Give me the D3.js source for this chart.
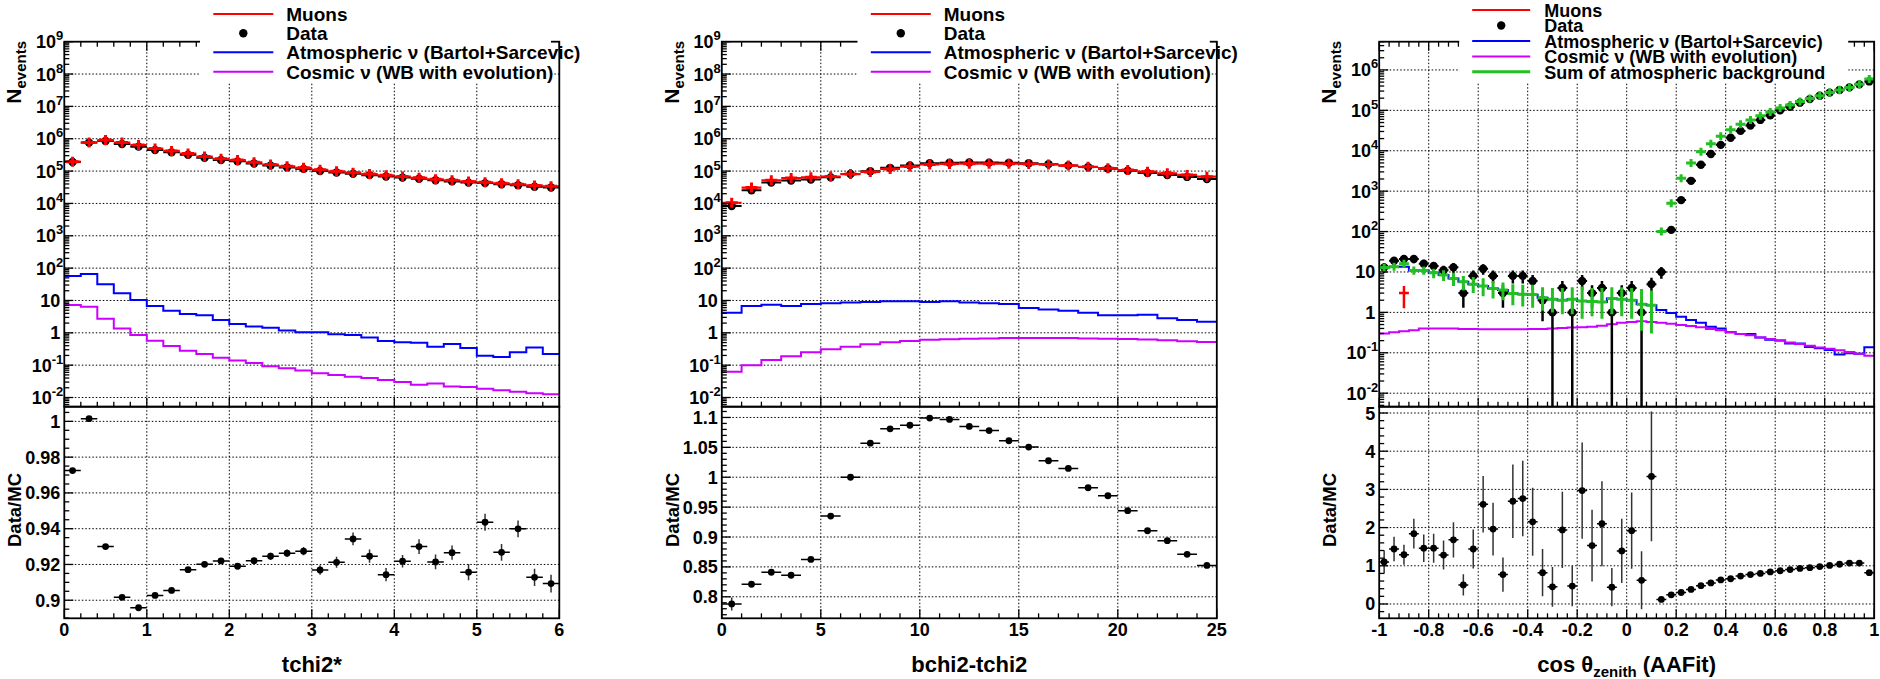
<!DOCTYPE html>
<html><head><meta charset="utf-8">
<script src="https://cdn.jsdelivr.net/npm/d3@7"></script>
<style>
body{margin:0;background:#fff}
svg{display:block}
text{font-family:"Liberation Sans",Arial,Helvetica,sans-serif;font-weight:bold;fill:#000}
</style>
</head><body>
<svg id="c" width="1880" height="679"></svg>
<script>
// ================= DATA =================
// ---- Panel 1: tchi2* (30 bins, 0..6)
const tchiMuons = [1.95e5,7.6e5,9.1e5,7.6e5,6.4e5,5.0e5,4.2e5,3.5e5,2.8e5,2.4e5,2.2e5,1.86e5,1.6e5,1.4e5,1.26e5,1.1e5,9.8e4,8.9e4,8.1e4,7.4e4,6.8e4,6.2e4,5.6e4,5.2e4,4.8e4,4.5e4,4.2e4,3.9e4,3.6e4,3.4e4];
const tchiData = [1.9e5,7.6e5,8.5e5,6.85e5,5.7e5,4.5e5,3.8e5,3.2e5,2.58e5,2.2e5,2.0e5,1.71e5,1.48e5,1.3e5,1.17e5,1.01e5,9.0e4,8.3e4,7.5e4,6.8e4,6.3e4,5.8e4,5.2e4,4.8e4,4.4e4,4.25e4,3.9e4,3.67e4,3.3e4,3.1e4];
const tchiAtmNu = [57,66,32,16.6,10.4,6.8,4.8,3.8,3.5,2.5,1.87,1.58,1.44,1.17,1.04,1.04,0.91,0.85,0.72,0.56,0.51,0.49,0.37,0.45,0.34,0.195,0.18,0.25,0.35,0.22];
const tchiCosmicNu = [7.2,6.4,2.7,1.35,0.85,0.57,0.39,0.28,0.22,0.17,0.14,0.117,0.093,0.081,0.068,0.056,0.050,0.044,0.040,0.035,0.030,0.025,0.027,0.022,0.021,0.0187,0.0167,0.015,0.0135,0.0126];
const tchiRatio = [0.9725,1.0015,0.930,0.9016,0.8958,0.9027,0.9055,0.9171,0.9201,0.922,0.919,0.9221,0.9246,0.9263,0.9274,0.9169,0.9212,0.9343,0.9246,0.9143,0.9218,0.930,0.9214,0.9266,0.9157,0.9436,0.9268,0.9399,0.9128,0.9093];
const tchiRatioErr = [0.0008,0.0005,0.0006,0.0007,0.0008,0.0009,0.001,0.0012,0.0013,0.0014,0.0016,0.0017,0.0019,0.0021,0.0023,0.0026,0.0031,0.0035,0.0037,0.0037,0.0035,0.0041,0.0041,0.004,0.0045,0.0047,0.0047,0.0047,0.0048,0.005];
const tchiXTicks = [0,1,2,3,4,5,6];
const tchiXLabels = ["0","1","2","3","4","5","6"];
const tchiRatioTicks = [0.9,0.92,0.94,0.96,0.98,1];
const tchiRatioLabels = ["0.9","0.92","0.94","0.96","0.98","1"];

// ---- Panel 2: bchi2-tchi2 (25 bins, 0..25)
const bchiMuons = [1.05e4,3.1e4,5.2e4,6.1e4,6.4e4,6.8e4,8.1e4,9.4e4,1.17e5,1.38e5,1.6e5,1.66e5,1.7e5,1.7e5,1.7e5,1.66e5,1.6e5,1.48e5,1.35e5,1.23e5,1.08e5,9.6e4,8.5e4,7.6e4,6.7e4];
const bchiData = [8.3e3,2.55e4,4.4e4,5.1e4,5.5e4,6.4e4,8.1e4,9.9e4,1.26e5,1.5e5,1.76e5,1.82e5,1.84e5,1.83e5,1.8e5,1.74e5,1.64e5,1.5e5,1.33e5,1.19e5,1.02e5,8.7e4,7.6e4,6.6e4,5.7e4];
const bchiAtmNu = [4.2,6.8,7.4,6.8,7.8,8.2,8.6,9.0,9.5,9.5,9.0,9.5,8.6,8.2,7.8,5.9,5.3,4.8,4.2,3.5,3.5,3.6,2.8,2.5,2.2];
const bchiCosmicNu = [0.063,0.10,0.145,0.19,0.25,0.31,0.37,0.44,0.51,0.56,0.61,0.63,0.66,0.67,0.69,0.69,0.69,0.69,0.67,0.66,0.64,0.62,0.59,0.55,0.52];
const bchiRatio = [0.788,0.821,0.841,0.836,0.8625,0.935,1.0,1.057,1.081,1.087,1.099,1.0967,1.085,1.078,1.061,1.0505,1.0276,1.0147,0.9824,0.969,0.944,0.9105,0.8938,0.871,0.8525];
const bchiRatioErr = [0.011,0.004,0.003,0.003,0.003,0.003,0.003,0.003,0.003,0.003,0.003,0.003,0.003,0.003,0.003,0.003,0.003,0.003,0.003,0.003,0.003,0.003,0.003,0.003,0.003];
const bchiXTicks = [0,5,10,15,20,25];
const bchiXLabels = ["0","5","10","15","20","25"];
const bchiRatioTicks = [0.8,0.85,0.9,0.95,1,1.05,1.1];
const bchiRatioLabels = ["0.8","0.85","0.9","0.95","1","1.05","1.1"];

// ---- Panel 3: cos theta_zenith (50 bins, -1..1)
const cosData = [13,19,21,21,16,14,11,13,3,8,12,8,3,8,8,6,2,1,4,1,6,3,4,1,3,4,1,5,10,110,600,1800,4500,8300,1.4e4,2.1e4,3.1e4,4.2e4,5.8e4,7.5e4,1.0e5,1.23e5,1.55e5,1.9e5,2.3e5,2.75e5,3.2e5,3.7e5,4.4e5,5.2e5];
const cosDataErr = [3.6,4.4,4.6,4.6,4,3.7,3.3,3.6,1.7,2.8,3.5,2.8,1.7,2.8,2.8,2.4,1.4,1,2,1,2.4,1.7,2,1,1.7,2,1,2.2,3.2,10.5,24,42,67,91,118,145,176,205,241,274,316,351,394,436,480,524,566,608,663,721];
const cosSumBkg = [12.9,13.5,15.9,10.8,10.8,9.5,8.4,6.9,5.7,5.0,4.5,3.9,3.6,2.95,2.8,2.75,2.3,2.1,2.0,2.1,1.9,1.85,1.8,2.2,2.1,2.0,1.6,1.5,100,500,2100,5000,9500,1.5e4,2.3e4,3.3e4,4.5e4,5.8e4,7.4e4,9.1e4,1.15e5,1.36e5,1.65e5,1.96e5,2.3e5,2.75e5,3.2e5,3.7e5,4.4e5,6.0e5];
const cosSumLo = [10,11,13,8.5,8.5,7,6,4.5,3.5,3,2.5,2.2,2,1.5,1.4,1.3,1.1,1.0,0.9,0.9,0.7,0.8,0.7,0.9,0.8,0.7,0.35,0.3,null,null,null,null,null,null,null,null,null,null,null,null,null,null,null,null,null,null,null,null,null,null];
const cosSumHi = [16,16.5,19,13.5,13.5,12,11,9.5,8,7.5,7,6,5.5,5,4.8,4.8,4.2,4.0,4.0,4.2,4.4,4.0,4.0,4.2,4.2,4.0,3.8,3.5,null,null,null,null,null,null,null,null,null,null,null,null,null,null,null,null,null,null,null,null,null,null];
const cosAtmNu = [12.9,13.5,13.5,10.8,10.8,9.5,8.4,6.9,5.7,5.0,4.5,3.9,3.6,2.95,2.8,2.75,2.3,2.1,2.0,2.1,1.9,1.85,1.8,2.2,2.1,2.0,1.6,1.5,1.15,0.96,0.78,0.65,0.55,0.44,0.40,0.32,0.29,0.29,0.24,0.21,0.20,0.17,0.17,0.14,0.13,0.117,0.091,0.097,0.095,0.137];
const cosCosmicNu = [0.30,0.32,0.34,0.36,0.40,0.40,0.40,0.40,0.39,0.39,0.38,0.38,0.38,0.38,0.38,0.39,0.39,0.40,0.41,0.42,0.43,0.44,0.47,0.51,0.55,0.58,0.60,0.58,0.55,0.52,0.49,0.46,0.43,0.39,0.36,0.32,0.29,0.27,0.24,0.22,0.20,0.18,0.165,0.15,0.135,0.125,0.115,0.105,0.095,0.085];
const cosMuons = [null,null,3,null,null,null,null,null,null,null,null,null,null,null,null,null,null,null,null,null,null,null,null,null,null,null,null,null,null,null,null,null,null,null,null,null,null,null,null,null,null,null,null,null,null,null,null,null,null,null];
const cosMuonsLo = [null,null,1.27,null,null,null,null,null,null,null,null,null,null,null,null,null,null,null,null,null,null,null,null,null,null,null,null,null,null,null,null,null,null,null,null,null,null,null,null,null,null,null,null,null,null,null,null,null,null,null];
const cosMuonsHi = [null,null,4.5,null,null,null,null,null,null,null,null,null,null,null,null,null,null,null,null,null,null,null,null,null,null,null,null,null,null,null,null,null,null,null,null,null,null,null,null,null,null,null,null,null,null,null,null,null,null,null];
const cosRatio = [1.10,1.44,1.29,1.84,1.46,1.46,1.28,1.68,0.50,1.44,2.61,1.96,0.77,2.69,2.76,2.15,0.82,0.45,1.94,0.47,2.97,1.53,2.10,0.44,1.39,1.92,0.62,3.34,0.12,0.24,0.30,0.38,0.48,0.55,0.63,0.66,0.73,0.77,0.80,0.84,0.87,0.90,0.93,0.95,0.98,1.01,1.04,1.07,1.07,0.82];
const cosRatioErr = [0.30,0.32,0.26,0.39,0.36,0.38,0.38,0.46,0.28,0.51,0.74,0.69,0.45,0.96,0.99,0.89,0.62,0.52,1.0,0.53,1.26,0.94,1.11,0.5,0.84,1.0,0.76,1.7,0.04,0.03,0.02,0.01,0.01,0.01,0.01,0.01,0.01,0.01,0.01,0.01,0.01,0.01,0.01,0.01,0.01,0.01,0.01,0.01,0.01,0.01];
const cosXTicks = [-1,-0.8,-0.6,-0.4,-0.2,0,0.2,0.4,0.6,0.8,1];
const cosXLabels = ["-1","-0.8","-0.6","-0.4","-0.2","0","0.2","0.4","0.6","0.8","1"];
const cosRatioTicks = [0,1,2,3,4,5];
const cosRatioLabels = ["0","1","2","3","4","5"];

// legend labels
const legendLabels3 = ["Muons","Data","Atmospheric \u03bd (Bartol+Sarcevic)","Cosmic \u03bd (WB with evolution)"];
const legendLabel5 = "Sum of atmospheric background";

// ================= LAYOUT / STYLE =================
const TOP0 = 41.7, MID = 406.7, BOT = 618.3, W = 495;
const RED = "#ff0000", BLUE = "#0000ff", MAG = "#cc00ff", GREEN = "#22c022";
const svg = d3.select("#c");
svg.append("rect").attr("width",1880).attr("height",679).attr("fill","#fff");
const defs = svg.append("defs");

function drawPanel(p) {
  const L = p.left, R = L + W;
  const g = svg.append("g");
  const x = d3.scaleLinear().domain(p.xDom).range([L, R]);
  const yT = d3.scaleLog().domain(p.topDom).range([MID, TOP0]);
  const yB = d3.scaleLinear().domain(p.ratioDom).range([BOT, MID]);
  const nb = p.nb, bw = (p.xDom[1] - p.xDom[0]) / nb;
  const lo = i => x(p.xDom[0] + i * bw), hi = i => x(p.xDom[0] + (i + 1) * bw), mid = i => x(p.xDom[0] + (i + 0.5) * bw);

  defs.append("clipPath").attr("id", p.id + "t").append("rect").attr("x", L).attr("y", TOP0).attr("width", W).attr("height", MID - TOP0);
  defs.append("clipPath").attr("id", p.id + "b").append("rect").attr("x", L).attr("y", MID).attr("width", W).attr("height", BOT - MID);

  // ---- grids
  const grid = g.append("g").attr("stroke", "#000").attr("stroke-width", 1).attr("stroke-dasharray", "1.5,2").attr("fill", "none");
  p.xTicks.forEach(v => {
    if (v <= p.xDom[0] + 1e-9 || v >= p.xDom[1] - 1e-9) return;
    grid.append("line").attr("x1", x(v)).attr("x2", x(v)).attr("y1", TOP0).attr("y2", MID);
    grid.append("line").attr("x1", x(v)).attr("x2", x(v)).attr("y1", MID).attr("y2", BOT);
  });
  p.topExp.forEach(k => {
    const yy = yT(Math.pow(10, k));
    if (yy > TOP0 + 1 && yy < MID - 1) grid.append("line").attr("x1", L).attr("x2", R).attr("y1", yy).attr("y2", yy);
  });
  p.ratioTicks.forEach(v => {
    const yy = yB(v);
    if (yy > MID + 1 && yy < BOT - 1) grid.append("line").attr("x1", L).attr("x2", R).attr("y1", yy).attr("y2", yy);
  });

  // ---- top pad content
  const top = g.append("g").attr("clip-path", "url(#" + p.id + "t)");
  function stepPath(vals) {
    const pts = [];
    vals.forEach((v, i) => { if (v == null || v <= 0) return; pts.push([lo(i), yT(v)], [hi(i), yT(v)]); });
    return d3.line()(pts);
  }
  top.append("path").attr("d", stepPath(p.atm)).attr("fill", "none").attr("stroke", BLUE).attr("stroke-width", 2);
  top.append("path").attr("d", stepPath(p.cosmic)).attr("fill", "none").attr("stroke", MAG).attr("stroke-width", 2);

  // data (black)
  const dg = top.append("g");
  p.data.forEach((v, i) => {
    if (v == null) return;
    dg.append("line").attr("x1", lo(i)).attr("x2", hi(i)).attr("y1", yT(v)).attr("y2", yT(v)).attr("stroke", "#000").attr("stroke-width", 2);
    if (p.dataErr) {
      const e = p.dataErr[i];
      const yl = (v - e) > 0 ? yT(v - e) : MID + 5;
      dg.append("line").attr("x1", mid(i)).attr("x2", mid(i)).attr("y1", yT(v + e)).attr("y2", yl).attr("stroke", "#000").attr("stroke-width", 2.5);
    }
    dg.append("circle").attr("cx", mid(i)).attr("cy", yT(v)).attr("r", 4.2).attr("fill", "#000");
  });

  if (p.muons) {
    const mg = top.append("g").attr("stroke", RED);
    p.muons.forEach((v, i) => {
      if (v == null) return;
      const y0 = yT(v);
      mg.append("line").attr("x1", lo(i)).attr("x2", hi(i)).attr("y1", y0).attr("y2", y0).attr("stroke-width", 2.2);
      mg.append("line").attr("x1", mid(i) - 6).attr("x2", mid(i) + 6).attr("y1", y0).attr("y2", y0).attr("stroke-width", 3);
      mg.append("line").attr("x1", mid(i)).attr("x2", mid(i)).attr("y1", y0 - 5).attr("y2", y0 + 5).attr("stroke-width", 3);
    });
  }
  if (p.sum) {
    const sg = top.append("g").attr("stroke", GREEN).attr("stroke-width", 3);
    p.sum.forEach((v, i) => {
      const y0 = yT(v);
      sg.append("line").attr("x1", lo(i)).attr("x2", hi(i)).attr("y1", y0).attr("y2", y0);
      const ya = p.sumHi[i] != null ? Math.min(yT(p.sumHi[i]), y0 - 4) : y0 - 4;
      const yb = p.sumLo[i] != null ? Math.max(yT(p.sumLo[i]), y0 + 4) : y0 + 4;
      sg.append("line").attr("x1", mid(i)).attr("x2", mid(i)).attr("y1", ya).attr("y2", yb);
    });
  }
  if (p.muonPts) {
    p.muonPts.forEach((v, i) => {
      if (v == null) return;
      const y0 = yT(v);
      top.append("line").attr("x1", lo(i)).attr("x2", hi(i)).attr("y1", y0).attr("y2", y0).attr("stroke", RED).attr("stroke-width", 2.5);
      top.append("line").attr("x1", mid(i)).attr("x2", mid(i)).attr("y1", yT(p.muonHi[i])).attr("y2", yT(p.muonLo[i])).attr("stroke", RED).attr("stroke-width", 2.5);
    });
  }

  // ---- bottom pad content (ratio)
  const bot = g.append("g").attr("clip-path", "url(#" + p.id + "b)");
  p.ratio.forEach((v, i) => {
    const e = p.ratioErr[i];
    bot.append("line").attr("x1", lo(i)).attr("x2", hi(i)).attr("y1", yB(v)).attr("y2", yB(v)).attr("stroke", "#000").attr("stroke-width", 1.5);
    bot.append("line").attr("x1", mid(i)).attr("x2", mid(i)).attr("y1", yB(v + e)).attr("y2", yB(v - e)).attr("stroke", "#333").attr("stroke-width", 1.5);
    bot.append("circle").attr("cx", mid(i)).attr("cy", yB(v)).attr("r", 3.4).attr("fill", "#000");
  });

  // ---- frames
  g.append("rect").attr("x", L).attr("y", TOP0).attr("width", W).attr("height", MID - TOP0).attr("fill", "none").attr("stroke", "#000").attr("stroke-width", 1.8);
  g.append("rect").attr("x", L).attr("y", MID).attr("width", W).attr("height", BOT - MID).attr("fill", "none").attr("stroke", "#000").attr("stroke-width", 1.8);

  // ---- ticks
  const tk = g.append("g").attr("stroke", "#000").attr("stroke-width", 1.3);
  const nMin = Math.round((p.xDom[1] - p.xDom[0]) / p.xMinor);
  for (let j = 0; j <= nMin; j++) {
    const v = p.xDom[0] + j * p.xMinor;
    const isMaj = p.xTicks.some(t => Math.abs(t - v) < 1e-6);
    const len = isMaj ? 9 : 5, xx = x(v);
    tk.append("line").attr("x1", xx).attr("x2", xx).attr("y1", MID).attr("y2", MID - len);
    tk.append("line").attr("x1", xx).attr("x2", xx).attr("y1", TOP0).attr("y2", TOP0 + len);
    tk.append("line").attr("x1", xx).attr("x2", xx).attr("y1", BOT).attr("y2", BOT - len);
  }
  const kMin = Math.floor(Math.log10(p.topDom[0])), kMax = Math.ceil(Math.log10(p.topDom[1]));
  for (let k = kMin; k <= kMax; k++) {
    for (let m = 1; m <= 9; m++) {
      const v = m * Math.pow(10, k);
      if (v < p.topDom[0] || v > p.topDom[1] * 1.0001) continue;
      const yy = yT(v), len = m === 1 ? 9 : 5;
      tk.append("line").attr("x1", L).attr("x2", L + len).attr("y1", yy).attr("y2", yy);
    }
  }
  const r0 = Math.ceil(p.ratioDom[0] / p.ratioMinor - 1e-9), r1 = Math.floor(p.ratioDom[1] / p.ratioMinor + 1e-9);
  for (let j = r0; j <= r1; j++) {
    const v = j * p.ratioMinor;
    const isMaj = p.ratioTicks.some(t => Math.abs(t - v) < 1e-6);
    const yy = yB(v), len = isMaj ? 9 : 5;
    tk.append("line").attr("x1", L).attr("x2", L + len).attr("y1", yy).attr("y2", yy);
  }

  // ---- labels
  const lab = g.append("g").style("font-size", "18px");
  p.topExp.forEach(k => {
    const yy = yT(Math.pow(10, k));
    if (k === 0 || k === 1) {
      lab.append("text").attr("x", L - 4).attr("y", yy + 6.5).attr("text-anchor", "end").text(k === 0 ? "1" : "10");
    } else {
      const t = lab.append("text").attr("x", L - 1).attr("y", yy + 6.5).attr("text-anchor", "end");
      t.append("tspan").text("10");
      t.append("tspan").attr("dy", -8).style("font-size", "13px").text(String(k));
    }
  });
  p.ratioTicks.forEach((v, i) => {
    lab.append("text").attr("x", L - 4).attr("y", yB(v) + 6.5).attr("text-anchor", "end").text(p.ratioLabels[i]);
  });
  p.xTicks.forEach((v, i) => {
    lab.append("text").attr("x", x(v)).attr("y", 636).attr("text-anchor", "middle").text(p.xLabels[i]);
  });

  // axis titles
  const xt = g.append("text").attr("x", (L + R) / 2).attr("y", 672).attr("text-anchor", "middle").style("font-size", "22px");
  p.xTitle(xt);
  const nt = g.append("text").attr("transform", `translate(${L - 43},41) rotate(-90)`).attr("text-anchor", "end").style("font-size", "21px");
  nt.append("tspan").text("N");
  nt.append("tspan").attr("dy", 5).style("font-size", "15px").text("events");
  g.append("text").attr("transform", `translate(${L - 43},510) rotate(-90)`).attr("text-anchor", "middle").style("font-size", "18.5px").text("Data/MC");

  // ---- legend
  const lg = g.append("g");
  lg.append("rect").attr("x", L + p.leg.box[0]).attr("y", 0).attr("width", p.leg.box[1] - p.leg.box[0]).attr("height", p.leg.box[2]).attr("fill", "#fff");
  p.leg.items.forEach((it, j) => {
    const yy = p.leg.rows[j];
    if (it.marker) {
      lg.append("circle").attr("cx", L + (p.leg.line[0] + p.leg.line[1]) / 2).attr("cy", yy).attr("r", 4.2).attr("fill", "#000");
    } else {
      lg.append("line").attr("x1", L + p.leg.line[0]).attr("x2", L + p.leg.line[1]).attr("y1", yy).attr("y2", yy).attr("stroke", it.color).attr("stroke-width", it.w || 2);
    }
    lg.append("text").attr("x", L + p.leg.text).attr("y", yy + 6.8).style("font-size", p.leg.font).text(it.label);
  });
}

const leg4 = [
  {color: RED, label: legendLabels3[0]},
  {marker: true, label: legendLabels3[1]},
  {color: BLUE, label: legendLabels3[2]},
  {color: MAG, label: legendLabels3[3]}
];

drawPanel({
  id: "p1", left: 64.3, xDom: [0, 6], nb: 30, xTicks: tchiXTicks, xLabels: tchiXLabels, xMinor: 0.2,
  topDom: [0.0052, 1e9], topExp: [-2,-1,0,1,2,3,4,5,6,7,8,9],
  ratioDom: [0.8899, 1.0082], ratioTicks: tchiRatioTicks, ratioLabels: tchiRatioLabels, ratioMinor: 0.005,
  muons: tchiMuons, data: tchiData, atm: tchiAtmNu, cosmic: tchiCosmicNu, ratio: tchiRatio, ratioErr: tchiRatioErr,
  xTitle: t => t.text("tchi2*"),
  leg: {box: [135.7, 486.7, 82], rows: [14, 33.3, 52.3, 71.7], line: [149, 209], text: 222, font: "19px", items: leg4}
});
drawPanel({
  id: "p2", left: 721.8, xDom: [0, 25], nb: 25, xTicks: bchiXTicks, xLabels: bchiXLabels, xMinor: 1,
  topDom: [0.0052, 1e9], topExp: [-2,-1,0,1,2,3,4,5,6,7,8,9],
  ratioDom: [0.764, 1.118], ratioTicks: bchiRatioTicks, ratioLabels: bchiRatioLabels, ratioMinor: 0.01,
  muons: bchiMuons, data: bchiData, atm: bchiAtmNu, cosmic: bchiCosmicNu, ratio: bchiRatio, ratioErr: bchiRatioErr,
  xTitle: t => t.text("bchi2-tchi2"),
  leg: {box: [135.7, 488, 82], rows: [14, 33.3, 52.3, 71.7], line: [149, 209], text: 222, font: "19px", items: leg4}
});
drawPanel({
  id: "p3", left: 1379.2, xDom: [-1, 1], nb: 50, xTicks: cosXTicks, xLabels: cosXLabels, xMinor: 0.04,
  topDom: [0.00463, 5.0e6], topExp: [-2,-1,0,1,2,3,4,5,6],
  ratioDom: [-0.375, 5.165], ratioTicks: cosRatioTicks, ratioLabels: cosRatioLabels, ratioMinor: 0.2,
  data: cosData, dataErr: cosDataErr, atm: cosAtmNu, cosmic: cosCosmicNu,
  sum: cosSumBkg, sumLo: cosSumLo, sumHi: cosSumHi,
  muonPts: cosMuons, muonLo: cosMuonsLo, muonHi: cosMuonsHi,
  ratio: cosRatio, ratioErr: cosRatioErr,
  xTitle: t => { t.append("tspan").text("cos \u03b8"); t.append("tspan").attr("dy", 5).style("font-size", "15px").text("zenith"); t.append("tspan").attr("dy", -5).text(" (AAFit)"); },
  leg: {box: [80, 469, 82], rows: [10, 25.5, 41, 56.4, 71.8], line: [93, 151], text: 165, font: "18px",
        items: leg4.concat([{color: GREEN, w: 3, label: legendLabel5}])}
});
</script>
</body></html>
